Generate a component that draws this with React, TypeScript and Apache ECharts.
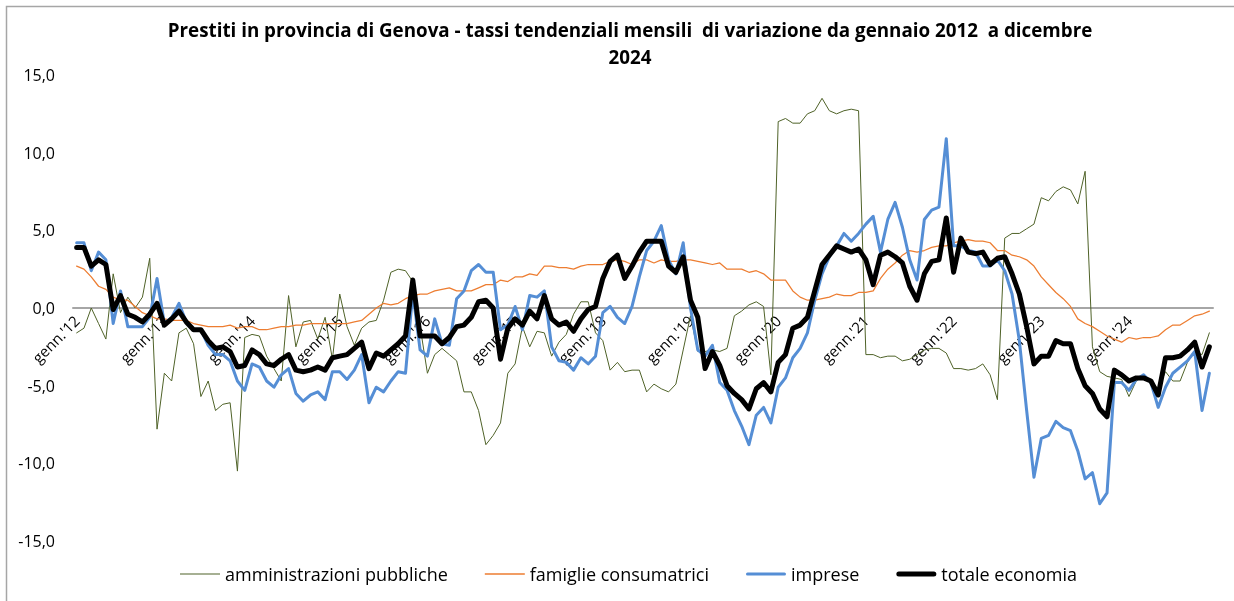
import React, { useEffect, useRef } from "react";
import * as echarts from "echarts";

const YEARS = ["12", "13", "14", "15", "16", "17", "18", "19", "20", "21", "22", "23", "24"];
const MONTHS = ["genn.", "febb.", "mar.", "apr.", "magg.", "giu.", "lug.", "ago.", "sett.", "ott.", "nov.", "dic."];
const CATEGORIES: string[] = [];
YEARS.forEach((y) => MONTHS.forEach((m) => CATEGORIES.push(`${m}'${y}`)));

const SERIES_NAMES = ["amministrazioni pubbliche", "famiglie consumatrici", "imprese", "totale economia"];

const AMM_PUBBLICHE = [
  -1.6, -1.3, 0.0, -1.0, -2.0, 2.2, -0.3, 0.7, 0.0, 0.7, 3.2, -7.8,
  -4.2, -4.7, -1.6, -1.3, -2.3, -5.7, -4.7, -6.6, -6.2, -6.1, -10.5, -1.9,
  -1.7, -1.8, -3.1, -3.9, -4.7, 0.8, -2.5, -0.9, -0.8, -2.0, -0.6, -3.3,
  0.9, -1.2, -2.4, -1.3, -0.9, -0.8, 0.5, 2.3, 2.5, 2.4, 1.7, -1.2,
  -4.2, -3.0, -2.6, -3.0, -3.4, -5.4, -5.4, -6.6, -8.8, -8.2, -7.4, -4.2,
  -3.6, -1.2, -2.5, -1.5, -1.6, -3.1, -2.2, -1.7, -0.4, 0.4, 0.4, -1.6,
  -2.1, -4.0, -3.5, -4.1, -4.0, -4.0, -5.4, -4.9, -5.2, -5.4, -4.9, -2.7,
  -0.5, -2.8, -2.8, -2.7, -2.8, -2.6, -0.5, -0.2, 0.2, 0.4, 0.1, -4.3,
  12.0, 12.2, 11.9, 11.9, 12.5, 12.7, 13.5, 12.7, 12.5, 12.7, 12.8, 12.7,
  -3.0, -3.0, -3.2, -3.1, -3.1, -3.4, -3.3, -3.0, -2.7, -2.6, -2.6, -2.9,
  -3.9, -3.9, -4.0, -3.9, -3.6, -4.3, -5.9, 4.5, 4.8, 4.8, 5.1, 5.4,
  7.1, 6.9, 7.5, 7.8, 7.6, 6.7, 8.8, -2.5, -4.1, -4.4, -4.5, -4.6,
  -5.7, -4.7, -4.4, -4.7, -5.2, -4.1, -4.7, -4.7, -3.5, -2.8, -3.0, -1.6,
];

const FAM_CONSUMATRICI = [
  2.7, 2.5, 2.0, 1.4, 1.2, 0.7, 0.5, 0.5, 0.1, -0.3, -0.5, -0.7,
  -0.7, -0.8, -0.8, -0.8, -1.0, -1.1, -1.2, -1.2, -1.2, -1.1, -1.3, -1.2,
  -1.2, -1.4, -1.4, -1.3, -1.2, -1.2, -1.1, -1.1, -1.0, -1.0, -1.0, -1.0,
  -1.0, -1.0, -0.9, -0.8, -0.4, 0.0, 0.3, 0.2, 0.3, 0.6, 0.8, 0.9,
  0.9, 1.1, 1.2, 1.3, 1.1, 1.1, 1.1, 1.3, 1.5, 1.5, 1.8, 1.7,
  2.0, 2.0, 2.2, 2.1, 2.7, 2.7, 2.6, 2.6, 2.5, 2.7, 2.8, 2.8,
  2.8, 3.0, 3.1, 3.0, 2.8, 3.1, 3.1, 2.9, 3.1, 3.0, 3.0, 3.1,
  3.1, 3.0, 2.9, 2.8, 2.9, 2.5, 2.5, 2.5, 2.3, 2.4, 2.2, 1.8,
  1.8, 1.8, 1.1, 0.7, 0.5, 0.5, 0.6, 0.7, 0.9, 0.8, 0.8, 1.0,
  1.0, 1.1, 1.9, 2.5, 2.9, 3.4, 3.7, 3.6, 3.7, 3.9, 4.0, 4.0,
  4.2, 4.3, 4.4, 4.3, 4.3, 4.2, 3.7, 3.7, 3.4, 3.3, 3.1, 2.7,
  2.0, 1.5, 1.0, 0.6, 0.1, -0.7, -1.0, -1.2, -1.5, -1.8, -2.0, -2.2,
  -1.9, -2.0, -1.9, -1.9, -1.8, -1.4, -1.1, -1.1, -0.8, -0.5, -0.4, -0.2,
];

const IMPRESE = [
  4.2, 4.2, 2.4, 3.6, 3.1, -1.0, 1.1, -1.2, -1.2, -1.2, -0.6, 1.9,
  -1.0, -0.6, 0.3, -0.9, -1.4, -1.4, -2.4, -3.0, -3.0, -3.4, -4.7, -5.3,
  -3.6, -3.8, -4.7, -5.1, -4.3, -3.9, -5.5, -6.0, -5.6, -5.4, -5.9, -4.1,
  -4.1, -4.6, -4.0, -3.0, -6.1, -5.1, -5.4, -4.7, -4.1, -4.2, 1.0, -2.7,
  -3.1, -0.7, -2.3, -2.4, 0.6, 1.1, 2.4, 2.8, 2.3, 2.3, -1.4, -1.1,
  0.1, -1.4, 0.8, 0.7, 1.1, -2.5, -3.4, -3.5, -4.0, -3.2, -3.6, -3.1,
  -0.3, 0.1, -0.6, -1.0, 0.1, 2.0, 3.7, 4.3, 5.3, 3.1, 2.2, 4.2,
  0.0, -2.7, -3.1, -2.4, -4.8, -5.3, -6.6, -7.6, -8.8, -6.9, -6.4, -7.4,
  -5.1, -4.5, -3.2, -2.6, -1.6, 0.5, 2.2, 3.3, 4.0, 4.8, 4.3, 4.8,
  5.4, 5.9, 3.6, 5.7, 6.8, 5.2, 3.1, 1.8, 5.7, 6.3, 6.5, 10.9,
  4.0, 4.0, 3.7, 3.6, 2.7, 2.7, 3.1, 2.4, 0.9, -2.1, -6.6, -10.9,
  -8.4, -8.2, -7.3, -7.7, -7.9, -9.2, -11.0, -10.6, -12.6, -11.9, -4.8, -4.8,
  -5.3, -4.6, -4.3, -4.8, -6.4, -5.1, -4.2, -3.8, -3.4, -2.8, -6.6, -4.2,
];

const TOTALE = [
  3.9, 3.9, 2.7, 3.1, 2.8, -0.1, 0.8, -0.4, -0.6, -0.9, -0.4, 0.3,
  -1.1, -0.7, -0.2, -0.9, -1.4, -1.4, -2.1, -2.6, -2.5, -2.8, -3.8, -3.7,
  -2.7, -3.0, -3.6, -3.7, -3.3, -3.0, -4.0, -4.1, -4.0, -3.8, -4.0, -3.2,
  -3.1, -3.0, -2.6, -2.2, -3.9, -2.9, -3.1, -2.7, -2.3, -1.8, 1.8, -1.8,
  -1.8, -1.8, -2.3, -1.9, -1.2, -1.1, -0.6, 0.4, 0.5, 0.0, -3.3, -1.3,
  -0.7, -1.1, -0.2, -0.7, 0.8, -0.7, -1.1, -0.9, -1.5, -0.7, -0.1, 0.1,
  1.9, 3.0, 3.4, 1.9, 2.7, 3.6, 4.3, 4.3, 4.3, 2.7, 2.3, 3.3,
  0.5, -0.6, -3.9, -2.8, -3.7, -5.0, -5.5, -5.9, -6.5, -5.2, -4.8, -5.4,
  -3.5, -3.0, -1.3, -1.1, -0.6, 1.1, 2.8, 3.4, 4.0, 3.8, 3.6, 3.8,
  3.1, 1.5, 3.4, 3.6, 3.3, 2.9, 1.4, 0.5, 2.2, 3.0, 3.1, 5.8,
  2.3, 4.5, 3.6, 3.5, 3.6, 2.8, 3.2, 3.3, 2.2, 0.9, -1.2, -3.6,
  -3.1, -3.1, -2.1, -2.3, -2.3, -3.9, -5.0, -5.5, -6.5, -7.0, -4.0, -4.3,
  -4.7, -4.5, -4.5, -4.7, -5.6, -3.2, -3.2, -3.1, -2.7, -2.2, -3.8, -2.5,
];

const TITLE = "Prestiti in provincia di Genova - tassi tendenziali mensili  di variazione da gennaio 2012  a dicembre\n2024";
const FONT = "'Open Sans', 'Noto Sans', sans-serif";

const COLORS = ["#4F6228", "#ED7D31", "#558ED5", "#000000"];
const WIDTHS = [1, 1.25, 3, 5];
const LEGEND_ICONS = [
  "path://M0 0H40V1H0Z",
  "path://M0 0H40V1.3H0Z",
  "path://M1.5 0H38.5A1.5 1.5 0 0 1 38.5 3H1.5A1.5 1.5 0 0 1 1.5 0Z",
  "path://M2.5 0H37.5A2.5 2.5 0 0 1 37.5 5H2.5A2.5 2.5 0 0 1 2.5 0Z",
];

export default function App() {
  const ref = useRef<HTMLDivElement>(null);
  useEffect(() => {
    document.body.style.margin = "0";
    document.body.style.overflow = "hidden";
    const chart = echarts.init(ref.current!, null, { renderer: "svg" });
    const dataSets = [AMM_PUBBLICHE, FAM_CONSUMATRICI, IMPRESE, TOTALE];
    chart.setOption({
      animation: false,
      textStyle: { fontFamily: FONT },
      graphic: [
        {
          type: "rect",
          shape: { x: 6.5, y: 6.5, width: 1400, height: 800 },
          style: { fill: "none", stroke: "#a6a6a6", lineWidth: 1.5 },
          silent: true,
        },
        {
          type: "text",
          x: 630,
          y: 16,
          style: {
            text: TITLE,
            fontFamily: FONT,
            fontSize: 18.8,
            fontWeight: "bold",
            lineHeight: 27,
            fill: "#000",
            align: "center",
            verticalAlign: "top",
          },
        },
      ],
      grid: { left: 73, right: 21, top: 75, bottom: 60, containLabel: false },
      legend: {
        data: SERIES_NAMES.map((name, i) => ({ name, icon: LEGEND_ICONS[i] })),
        top: 560,
        left: 175,
        itemWidth: 40,
        itemHeight: 16,
        itemGap: 37,
        symbolKeepAspect: true,
        textStyle: { fontSize: 18, color: "#000", fontFamily: FONT },
      },
      xAxis: {
        type: "category",
        data: CATEGORIES,
        boundaryGap: true,
        position: "bottom",
        offset: -233,
        axisLine: { onZero: false, lineStyle: { color: "#a6a6a6", width: 2 } },
        axisTick: { show: false },
        splitLine: { show: false },
        axisLabel: {
          rotate: 45,
          margin: 10,
          fontSize: 15,
          color: "#000",
          fontFamily: FONT,
          interval: (index: number) => index % 12 === 0,
        },
      },
      yAxis: {
        type: "value",
        min: -15,
        max: 15,
        interval: 5,
        axisLine: { show: false },
        axisTick: { show: false },
        splitLine: { show: false },
        axisLabel: {
          fontSize: 16,
          color: "#000",
          margin: 18,
          fontFamily: FONT,
          formatter: (v: number) => v.toFixed(1).replace(".", ","),
        },
      },
      series: SERIES_NAMES.map((name, i) => ({
        name,
        type: "line",
        data: dataSets[i],
        symbol: "none",
        showSymbol: false,
        z: 2 + i,
        lineStyle: { color: COLORS[i], width: WIDTHS[i], join: "round", cap: "round" },
        itemStyle: { color: COLORS[i] },
      })),
    });
    return () => chart.dispose();
  }, []);
  return <div ref={ref} style={{ position: "fixed", left: 0, top: 0, width: 1234, height: 601 }} />;
}
